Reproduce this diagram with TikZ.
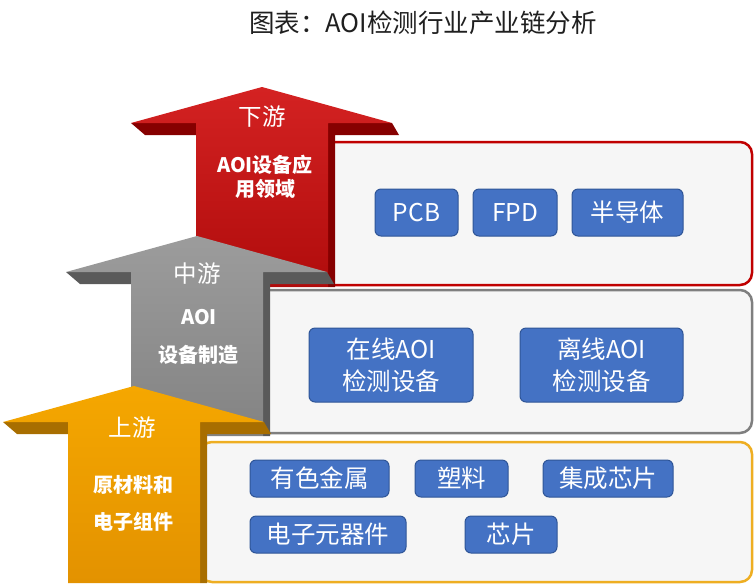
\documentclass[tikz,border=0pt]{standalone}
\usepackage{fontspec}
\setmainfont{Noto Sans CJK SC}

\definecolor{itemblue}{HTML}{4472C4}
\definecolor{itemedge}{HTML}{2F5597}
\definecolor{panelfill}{HTML}{F6F6F6}
\definecolor{redtop}{HTML}{D42222}
\definecolor{redbot}{HTML}{B00C0C}
\definecolor{reddark}{HTML}{860000}
\definecolor{redline}{HTML}{C00000}
\definecolor{graytop}{HTML}{9C9C9C}
\definecolor{graybot}{HTML}{838383}
\definecolor{graydark}{HTML}{5A5A5A}
\definecolor{grayline}{HTML}{7F7F7F}
\definecolor{orgtop}{HTML}{F5A700}
\definecolor{orgbot}{HTML}{E39200}
\definecolor{orgdark}{HTML}{A86E00}
\definecolor{orgline}{HTML}{EEAE22}

\tikzset{
  item/.style={draw=itemedge, fill=itemblue, text=white, rounded corners=6pt,
    line width=1pt, align=center, inner sep=0pt, font=\fontsize{24.5}{32}\selectfont},
  panel/.style={fill=panelfill, line width=2.5pt, rounded corners=12pt},
  armname/.style={text=white, font=\fontsize{23.5}{26}\selectfont},
  armtext/.style={text=white, font=\bfseries\fontsize{20}{24}\selectfont, align=center}
}

% #1 centre x, #2 tip y, #3 bottom y, #4 #5 front colours, #6 side colour
\newcommand{\levelarrow}[6]{%
  \fill [#6] ({#1-131},{#2+36}) -- ({#1-117},{#2+48}) -- ({#1-66},{#2+48}) -- ({#1-66},{#2+36}) -- cycle;
  \fill [#6] ({#1+66},{#2+36}) -- ({#1+130},{#2+36}) -- ({#1+137},{#2+48}) -- ({#1+73},{#2+48})
    -- ({#1+73},#3) -- ({#1+66},#3) -- cycle;
  \shade [top color=#4, bottom color=#5] (#1,#2) -- ({#1+130},{#2+36}) -- ({#1+66},{#2+36})
    -- ({#1+66},#3) -- ({#1-66},#3) -- ({#1-66},{#2+36}) -- ({#1-131},{#2+36}) -- cycle;
}

\begin{document}
\begin{tikzpicture}[x=1pt,y=-1pt,thick]
\useasboundingbox (0,0) rectangle (754,587);

\node (title) at (423,23) [font=\fontsize{25.5}{28}\selectfont, text=black!88] {图表：AOI检测行业产业链分析};

% downstream
\draw [panel, draw=redline] (322,142) rectangle (752,285);
\levelarrow{262}{87}{287}{redtop}{redbot}{reddark}
\node (dn) at (262,117) [armname] {下游};
\node (dnA) at (265,165) [armtext] {AOI设备应};
\node (dnB) at (265,189) [armtext] {用领域};

% midstream
\draw [panel, draw=grayline] (258,290) rectangle (752,433);
\levelarrow{197}{236}{436}{graytop}{graybot}{graydark}
\node (mid) at (197,274) [armname] {中游};
\node (midA) at (199,317) [armtext] {AOI};
\node (midB) at (198,355) [armtext] {设备制造};

% upstream
\draw [panel, draw=orgline] (200,442) rectangle (752,582);
\levelarrow{134}{386}{583}{orgtop}{orgbot}{orgdark}
\node (up) at (132,428) [armname] {上游};
\node (upA) at (133,485) [armtext] {原材料和};
\node (upB) at (133,522) [armtext] {电子组件};

\foreach \name / \x / \y / \w / \h / \txt in {
    pcb/416.5/212.5/83/47/PCB, fpd/515/212.5/84/47/FPD, semi/627.5/212.5/111/47/半导体,
    online/391/365/164/74/{在线AOI\\检测设备}, offline/601.5/365/163/74/{离线AOI\\检测设备},
    metal/319.5/478.5/139/37/有色金属, plastic/461.5/478.5/93/37/塑料, ic/608/478.5/130/37/集成芯片,
    parts/328/534.5/156/37/电子元器件, chip/511/534.5/92/37/芯片}
  \node (\name) at (\x,\y) [item, minimum width=\w pt, minimum height=\h pt] {\txt};
\end{tikzpicture}
\end{document}
